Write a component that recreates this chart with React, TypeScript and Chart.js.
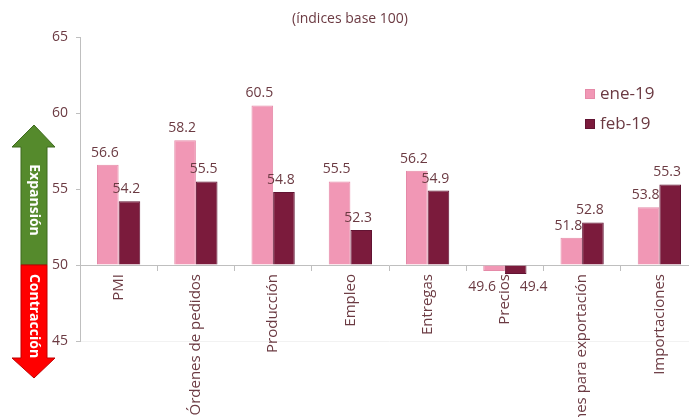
import { useEffect, useRef } from "react";
import { Chart, registerables } from "chart.js";

Chart.register(...registerables);

const categories = [
  "PMI",
  "Órdenes de pedidos",
  "Producción",
  "Empleo",
  "Entregas",
  "Precios",
  "Órdenes para exportación",
  "Importaciones",
];
const seriesLabels = ["ene-19", "feb-19"];
const ene19 = [56.6, 58.2, 60.5, 55.5, 56.2, 49.6, 51.8, 53.8];
const feb19 = [54.2, 55.5, 54.8, 52.3, 54.9, 49.4, 52.8, 55.3];
const yMin = 45;
const yMax = 65;
const yStep = 5;
const baseline = 50;
const subtitle = "(índices base 100)";
const expansionLabel = "Expansión";
const contractionLabel = "Contracción";

const FONT = "'Open Sans', 'DejaVu Sans', sans-serif";
const TEXT = "#6b3a42";
const PINK = "#f197b5";
const PINK_BORDER = "#e58aa8";
const WINE = "#7b1b3c";
const WINE_BORDER = "#621433";

const decorPlugin = {
  id: "decor",
  afterDraw(chart: any) {
    const ctx = chart.ctx;
    const y = chart.scales.y;
    const base = y.getPixelForValue(baseline);
    ctx.save();

    // subtitle
    ctx.fillStyle = TEXT;
    ctx.font = `14px ${FONT}`;
    ctx.textAlign = "center";
    ctx.textBaseline = "middle";
    ctx.fillText(subtitle, 350, 19);

    // arrows
    const bx0 = 21, bx1 = 47, hx0 = 12, hx1 = 55, mid = 34;
    ctx.beginPath();
    ctx.moveTo(bx0, base);
    ctx.lineTo(bx0, base - 118);
    ctx.lineTo(hx0, base - 118);
    ctx.lineTo(mid, base - 140);
    ctx.lineTo(hx1, base - 118);
    ctx.lineTo(bx1, base - 118);
    ctx.lineTo(bx1, base);
    ctx.closePath();
    ctx.fillStyle = "#558a2c";
    ctx.fill();
    ctx.strokeStyle = "#3e6a1e";
    ctx.lineWidth = 1;
    ctx.stroke();
    ctx.beginPath();
    ctx.moveTo(bx0, base);
    ctx.lineTo(bx0, base + 93);
    ctx.lineTo(hx0, base + 93);
    ctx.lineTo(mid, base + 113);
    ctx.lineTo(hx1, base + 93);
    ctx.lineTo(bx1, base + 93);
    ctx.lineTo(bx1, base);
    ctx.closePath();
    ctx.fillStyle = "#ff0000";
    ctx.fill();
    ctx.strokeStyle = "#c00000";
    ctx.stroke();

    ctx.fillStyle = "#ffffff";
    ctx.font = `bold 14px ${FONT}`;
    ctx.textAlign = "center";
    ctx.textBaseline = "middle";
    ctx.save();
    ctx.translate(mid, base - 65);
    ctx.rotate(Math.PI / 2);
    ctx.fillText(expansionLabel, 0, 0);
    ctx.restore();
    ctx.save();
    ctx.translate(mid, base + 51);
    ctx.rotate(Math.PI / 2);
    ctx.fillText(contractionLabel, 0, 0);
    ctx.restore();

    // legend
    ctx.font = `17px ${FONT}`;
    ctx.textAlign = "left";
    chart.data.datasets.forEach((ds: any, i: number) => {
      const ly = 94 + i * 30;
      ctx.fillStyle = ds.backgroundColor;
      ctx.fillRect(585, ly - 5, 10, 10);
      ctx.strokeStyle = ds.borderColor;
      ctx.strokeRect(585.5, ly - 4.5, 9, 9);
      ctx.fillStyle = TEXT;
      ctx.fillText(ds.label, 600, ly);
    });

    // value labels
    ctx.font = `14px ${FONT}`;
    ctx.fillStyle = TEXT;
    ctx.textAlign = "center";
    chart.data.datasets.forEach((ds: any, di: number) => {
      const meta = chart.getDatasetMeta(di);
      meta.data.forEach((el: any, i: number) => {
        const v = ds.data[i];
        const txt = v.toFixed(1);
        if (v >= baseline) {
          ctx.textBaseline = "bottom";
          ctx.fillText(txt, el.x - 3, el.y - 5);
        } else {
          ctx.textBaseline = "middle";
          ctx.fillText(txt, el.x + (di === 0 ? -12 : 18), base + 22);
        }
      });
    });
    ctx.restore();
  },
};

export default function App() {
  const ref = useRef<HTMLCanvasElement | null>(null);
  useEffect(() => {
    if (!ref.current) return;
    const chart = new Chart(ref.current, {
      type: "bar",
      data: {
        labels: categories,
        datasets: [
          {
            label: seriesLabels[0],
            data: ene19,
            base: baseline,
            backgroundColor: PINK,
            borderColor: PINK_BORDER,
            borderWidth: 1,
            categoryPercentage: 0.56,
            barPercentage: 1,
          },
          {
            label: seriesLabels[1],
            data: feb19,
            base: baseline,
            backgroundColor: WINE,
            borderColor: WINE_BORDER,
            borderWidth: 1,
            categoryPercentage: 0.56,
            barPercentage: 1,
          },
        ],
      },
      options: {
        responsive: false,
        animation: false,
        layout: { padding: { top: 37, bottom: 76, left: 0, right: 14 } },
        plugins: {
          legend: { display: false },
          tooltip: { enabled: false },
          title: { display: false },
        },
        scales: {
          x: {
            position: { y: baseline } as any,
            offset: true,
            grid: {
              display: true,
              drawOnChartArea: false,
              drawTicks: true,
              tickLength: 5,
              color: "#bfbfbf",
            },
            border: { display: true, color: "#bfbfbf" },
            ticks: {
              autoSkip: false,
              maxRotation: 90,
              minRotation: 90,
              padding: 4,
              color: TEXT,
              font: { family: FONT, size: 15 },
            },
          },
          y: {
            min: yMin,
            max: yMax,
            afterFit: (s: any) => {
              s.width = 80;
            },
            grid: {
              drawOnChartArea: true,
              drawTicks: true,
              tickLength: 4,
              color: (c: any) => (c.tick && c.tick.value === yMin ? "#f2f2f2" : "rgba(0,0,0,0)"),
              tickColor: "#bfbfbf",
            },
            border: { display: true, color: "#bfbfbf" },
            ticks: {
              stepSize: yStep,
              padding: 8,
              color: TEXT,
              font: { family: FONT, size: 14 },
            },
          },
        },
      },
      plugins: [decorPlugin],
    });
    return () => chart.destroy();
  }, []);
  return (
    <div
      style={{
        position: "fixed",
        left: 0,
        top: 0,
        width: 689,
        height: 417,
        overflow: "hidden",
        background: "#ffffff",
      }}
    >
      <canvas ref={ref} width={712} height={417} style={{ display: "block" }} />
    </div>
  );
}
